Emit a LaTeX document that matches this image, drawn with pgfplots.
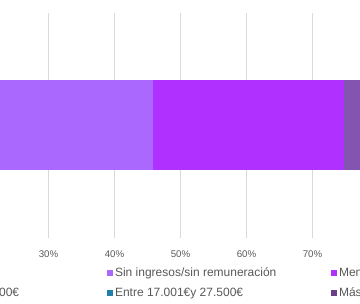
\documentclass[border=0pt]{standalone}
\usepackage{pgfplots}
\pgfplotsset{compat=1.18}
\usepackage{fontspec}
\setmainfont{Liberation Sans}
\definecolor{cA}{HTML}{7B68EE}
\definecolor{cB}{HTML}{AA68FF}
\definecolor{cC}{HTML}{B030FF}
\definecolor{cD}{HTML}{8455B0}
\definecolor{cE}{HTML}{1F80A8}
\definecolor{cF}{HTML}{6B3F86}
\definecolor{gridc}{HTML}{D9D9D9}
\definecolor{textc}{HTML}{595959}
\newcommand{\LE}[1]{\makebox[214pt][l]{#1}}
\begin{document}
\begin{tikzpicture}
\useasboundingbox (0,0) rectangle (360pt,304pt);
\clip (0,0) rectangle (360pt,304pt);
\begin{axis}[
 at={(-149.5pt,66pt)}, anchor=south west,
 scale only axis, width=660pt, height=225pt,
 xmin=0, xmax=100, ymin=-1.25, ymax=1.25,
 xbar stacked, bar width=90pt,
 axis line style={draw=none},
 ytick=\empty,
 xtick={0,10,...,100},
 xmajorgrids, grid style={color=gridc, line width=0.8pt},
 major tick length=0pt,
 xticklabel={\pgfmathprintnumber{\tick}\%},
 xticklabel style={font=\fontsize{9.7}{11}\selectfont, text=textc, yshift=-9pt},
 /pgf/number format/assume math mode=true,
 legend columns=3,
 legend style={at={(0.049,-0.2)}, anchor=west, draw=none, inner sep=0pt,
   font=\fontsize{12}{14}\selectfont, text=textc, row sep=6pt,
   /tikz/every even column/.append style={column sep=0pt}},
 legend cell align=left,
 every axis plot post/.append style={legend image code/.code={\fill[##1, draw=none] (0pt,-3pt) rectangle (6pt,3pt);}},
]
\addplot[fill=cA, draw=none] coordinates {(3,0)};
\addplot[fill=cB, draw=none] coordinates {(42.8,0)};
\addplot[fill=cC, draw=none] coordinates {(29.0,0)};
\addplot[fill=cD, draw=none] coordinates {(12.0,0)};
\addplot[fill=cE, draw=none] coordinates {(8.0,0)};
\addplot[fill=cF, draw=none] coordinates {(5.2,0)};
\legend{\LE{NS/NC},\LE{Sin ingresos/sin remuneración},\LE{Menos de 10.000€},\LE{Entre 10.001€y 17.000€},\LE{Entre 17.001€y 27.500€},\LE{Más de 27.500€}}
\end{axis}
\end{tikzpicture}
\end{document}
